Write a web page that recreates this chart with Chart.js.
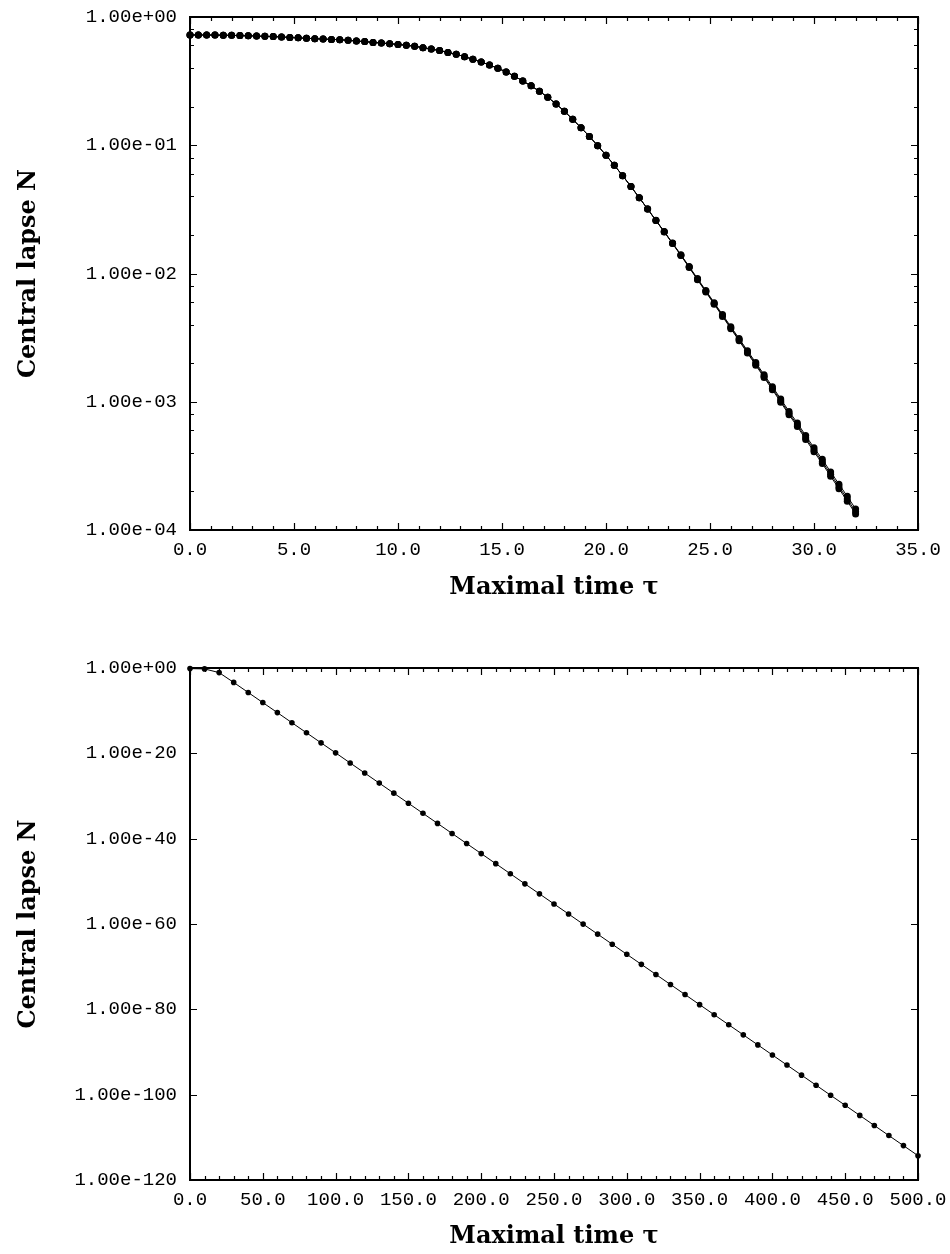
<!DOCTYPE html>
<html>
<head>
<meta charset="utf-8">
<title>Central lapse vs maximal time</title>
<script src="https://cdn.jsdelivr.net/npm/chart.js@4.4.0/dist/chart.umd.min.js"></script>
<style>
  body { margin: 0; background: #fff; }
  .panel { position: relative; width: 950px; height: 627px; }
</style>
</head>
<body>
<div class="panel"><canvas id="top_chart" width="950" height="627"></canvas></div>
<div class="panel"><canvas id="bottom_chart" width="950" height="627"></canvas></div>
<script>
// ---- upper panel: several runs, nearly on top of each other ----
var tauTop = [0.0,0.4,0.8,1.2,1.6,2.0,2.4,2.8,3.2,3.6,4.0,4.4,4.8,5.2,5.6,6.0,6.4,6.8,7.2,7.6,
  8.0,8.4,8.8,9.2,9.6,10.0,10.4,10.8,11.2,11.6,12.0,12.4,12.8,13.2,13.6,14.0,14.4,14.8,15.2,15.6,
  16.0,16.4,16.8,17.2,17.6,18.0,18.4,18.8,19.2,19.6,20.0,20.4,20.8,21.2,21.6,22.0,22.4,22.8,23.2,23.6,
  24.0,24.4,24.8,25.2,25.6,26.0,26.4,26.8,27.2,27.6,28.0,28.4,28.8,29.2,29.6,30.0,30.4,30.8,31.2,31.6,32.0];

var lapseMid = [0.7244,0.7244,0.7236,0.7228,0.7211,0.7194,0.7161,0.7137,0.7104,0.7063,0.7031,0.6982,0.6934,0.6879,0.6823,0.6776,0.6730,0.6691,0.6653,0.6577,
  0.6501,0.6427,0.6339,0.6266,0.6194,0.6109,0.6026,0.5902,0.5768,0.5623,0.5470,0.5297,0.5117,0.4909,0.4677,0.4457,0.4227,0.3981,0.3733,0.3459,
  0.3170,0.2904,0.2636,0.2366,0.2099,0.1841,0.1592,0.1371,0.1172,0.09931,0.08356,0.06982,0.05794,0.04764,0.03899,0.03184,0.02594,0.02113,0.01718,0.01390,
  0.01122,0.009016,0.007261,0.005834,0.004699,0.003776,0.003041,0.002443,0.001968,0.001581,0.001274,0.001019,0.0008128,0.0006592,0.0005248,0.0004207,0.0003412,0.0002716,0.0002178,0.0001746,0.0001390];

var lapseHigh = [0.7244,0.7244,0.7236,0.7228,0.7211,0.7194,0.7161,0.7137,0.7104,0.7063,0.7031,0.6982,0.6934,0.6879,0.6823,0.6776,0.6730,0.6691,0.6653,0.6577,
  0.6501,0.6427,0.6339,0.6266,0.6194,0.6109,0.6026,0.5902,0.5768,0.5623,0.5470,0.5297,0.5117,0.4909,0.4677,0.4457,0.4227,0.3981,0.3733,0.3459,
  0.3170,0.2904,0.2636,0.2366,0.2099,0.1841,0.1592,0.1371,0.1172,0.09931,0.08356,0.06982,0.05794,0.04764,0.03899,0.03184,0.02599,0.02121,0.01728,0.01401,
  0.01133,0.009124,0.007363,0.005927,0.004784,0.003852,0.003108,0.002502,0.002019,0.001625,0.001312,0.001052,0.0008404,0.0006829,0.0005447,0.0004375,0.0003555,0.0002836,0.0002278,0.0001830,0.0001460];

var lapseLow = [0.7244,0.7244,0.7236,0.7228,0.7211,0.7194,0.7161,0.7137,0.7104,0.7063,0.7031,0.6982,0.6934,0.6879,0.6823,0.6776,0.6730,0.6691,0.6653,0.6577,
  0.6501,0.6427,0.6339,0.6266,0.6194,0.6109,0.6026,0.5902,0.5768,0.5623,0.5470,0.5297,0.5117,0.4909,0.4677,0.4457,0.4227,0.3981,0.3733,0.3459,
  0.3170,0.2904,0.2636,0.2366,0.2099,0.1841,0.1592,0.1371,0.1172,0.09931,0.08356,0.06982,0.05794,0.04764,0.03899,0.03184,0.02590,0.02106,0.01710,0.01381,
  0.01113,0.008929,0.007180,0.005759,0.004631,0.003716,0.002987,0.002396,0.001927,0.001546,0.001243,0.0009929,0.0007907,0.0006402,0.0005088,0.0004072,0.0003297,0.0002620,0.0002098,0.0001679,0.0001334];

var xTicksTop = [0, 5, 10, 15, 20, 25, 30, 35];
var xLabelsTop = ['0.0', '5.0', '10.0', '15.0', '20.0', '25.0', '30.0', '35.0'];
var yTicksTop = [1, 1e-1, 1e-2, 1e-3, 1e-4];
var yLabelsTop = ['1.00e+00', '1.00e-01', '1.00e-02', '1.00e-03', '1.00e-04'];

// ---- lower panel: one long run ----
var tauBottom = [0,10,20,30,40,50,60,70,80,90,100,110,120,130,140,150,160,170,180,190,200,
  210,220,230,240,250,260,270,280,290,300,310,320,330,340,350,360,370,380,390,400,
  410,420,430,440,450,460,470,480,490,500];

var lapseBottom = [0.724,0.611,8.3e-2,4.2e-4,1.8e-6,7.9e-9,3.5e-11,1.5e-13,6.6e-16,2.9e-18,1.3e-20,
  5.5e-23,2.4e-25,1.05e-27,4.6e-30,2.0e-32,8.7e-35,3.8e-37,1.66e-39,7.2e-42,3.2e-44,
  1.38e-46,6.0e-49,2.6e-51,1.15e-53,5.0e-56,2.2e-58,9.5e-61,4.2e-63,1.8e-65,7.9e-68,
  3.5e-70,1.5e-72,6.6e-75,2.9e-77,1.26e-79,5.5e-82,2.4e-84,1.05e-86,4.6e-89,2.0e-91,
  8.7e-94,3.8e-96,1.66e-98,7.2e-101,3.2e-103,1.38e-105,6.0e-108,2.6e-110,1.15e-112,5.0e-115];

var xTicksBottom = [0, 50, 100, 150, 200, 250, 300, 350, 400, 450, 500];
var xLabelsBottom = ['0.0', '50.0', '100.0', '150.0', '200.0', '250.0', '300.0', '350.0', '400.0', '450.0', '500.0'];
var yTicksBottom = [1, 1e-20, 1e-40, 1e-60, 1e-80, 1e-100, 1e-120];
var yLabelsBottom = ['1.00e+00', '1.00e-20', '1.00e-40', '1.00e-60', '1.00e-80', '1.00e-100', '1.00e-120'];

var tickFont = { family: 'Liberation Mono', size: 19 };
var titleFont = { family: 'DejaVu Serif', size: 24, weight: 'bold' };

function toPoints(xs, ys)
{
    var pts = [];
    for (var i = 0; i < xs.length; i++) {
        pts.push({ x: xs[i], y: ys[i] });
    }
    return pts;
}

// box round the plot with inward ticks on all four sides (gnuplot look)
var framePlugin = {
    id: 'frame',
    beforeDatasetsDraw: function(chart, args, opts) {
        var ctx = chart.ctx;
        var a = chart.chartArea;
        var xs = chart.scales.x;
        var ys = chart.scales.y;
        ctx.save();
        ctx.strokeStyle = '#000';
        ctx.lineWidth = 1.2;
        ctx.beginPath();
        opts.xMajor.concat(opts.xMinor).forEach(function(v, i) {
            var len = i < opts.xMajor.length ? 7 : 4;
            var p = Math.round(xs.getPixelForValue(v)) + 0.5;
            ctx.moveTo(p, a.bottom); ctx.lineTo(p, a.bottom - len);
            ctx.moveTo(p, a.top); ctx.lineTo(p, a.top + len);
        });
        opts.yMajor.concat(opts.yMinor).forEach(function(v, i) {
            var len = i < opts.yMajor.length ? 7 : 4;
            var p = Math.round(ys.getPixelForValue(v)) + 0.5;
            ctx.moveTo(a.left, p); ctx.lineTo(a.left + len, p);
            ctx.moveTo(a.right, p); ctx.lineTo(a.right - len, p);
        });
        ctx.stroke();
        ctx.lineWidth = 2;
        ctx.strokeRect(a.left, a.top, a.right - a.left, a.bottom - a.top);
        ctx.restore();
    }
};

function xAxis(min, max, ticks, labels, height, titleBottom)
{
    return {
        type: 'linear', min: min, max: max,
        grid: { display: false, drawTicks: false },
        border: { display: false },
        ticks: {
            font: tickFont, color: '#000', padding: 9, maxRotation: 0, autoSkip: false,
            callback: function(v, i) { return labels[i]; }
        },
        afterBuildTicks: function(s) { s.ticks = ticks.map(function(v) { return { value: v }; }); },
        afterFit: function(s) {
            s.height = height;
            // end labels may hang over the frame; keep the plot box fixed
            s.paddingLeft = 0;
            s.paddingRight = 0;
        },
        title: { display: true, text: 'Maximal time τ', font: titleFont, color: '#000',
                 padding: { top: 0, bottom: titleBottom } }
    };
}

function yAxis(min, max, ticks, labels)
{
    return {
        type: 'logarithmic', min: min, max: max,
        grid: { display: false, drawTicks: false },
        border: { display: false },
        ticks: {
            font: tickFont, color: '#000', padding: 13, autoSkip: false,
            callback: function(v, i) { return labels[i]; }
        },
        afterBuildTicks: function(s) { s.ticks = ticks.map(function(v) { return { value: v }; }); },
        afterFit: function(s) {
            s.width = 190;
            s.paddingTop = 0;
            s.paddingBottom = 0;
        },
        title: { display: true, text: 'Central lapse N', font: titleFont, color: '#000',
                 padding: { top: 14, bottom: 0 } }
    };
}

function lineSet(points, radius)
{
    return {
        data: points,
        borderColor: '#000', borderWidth: 1,
        pointRadius: radius, pointBackgroundColor: '#000', pointBorderWidth: 0,
        tension: 0, clip: false
    };
}

function initPage()
{
    var xMinorTop = [];
    for (var i = 1; i < 35; i++) if (i % 5 !== 0) xMinorTop.push(i);
    var yMinorTop = [];
    for (var k = -4; k < 0; k++) {
        [2, 4, 6, 8].forEach(function(m) { yMinorTop.push(m * Math.pow(10, k)); });
    }
    var xMinorBottom = [];
    for (var j = 10; j < 500; j += 10) if (j % 50 !== 0) xMinorBottom.push(j);

    new Chart(document.getElementById('top_chart').getContext('2d'), {
        type: 'line',
        data: {
            datasets: [
                lineSet(toPoints(tauTop, lapseHigh), 3.5),
                lineSet(toPoints(tauTop, lapseLow), 3.5),
                lineSet(toPoints(tauTop, lapseMid), 3.5)
            ]
        },
        options: {
            responsive: false, animation: false,
            layout: { padding: { left: 0, right: 32, top: 17, bottom: 0 } },
            plugins: {
                legend: { display: false }, tooltip: { enabled: false },
                frame: { xMajor: xTicksTop, xMinor: xMinorTop, yMajor: yTicksTop, yMinor: yMinorTop }
            },
            scales: {
                x: xAxis(0, 35, xTicksTop, xLabelsTop, 97, 25),
                y: yAxis(1e-4, 1, yTicksTop, yLabelsTop)
            }
        },
        plugins: [framePlugin]
    });

    new Chart(document.getElementById('bottom_chart').getContext('2d'), {
        type: 'line',
        data: {
            datasets: [ lineSet(toPoints(tauBottom, lapseBottom), 2.8) ]
        },
        options: {
            responsive: false, animation: false,
            layout: { padding: { left: 0, right: 32, top: 41, bottom: 0 } },
            plugins: {
                legend: { display: false }, tooltip: { enabled: false },
                frame: { xMajor: xTicksBottom, xMinor: xMinorBottom, yMajor: yTicksBottom, yMinor: [] }
            },
            scales: {
                x: xAxis(0, 500, xTicksBottom, xLabelsBottom, 74, 3),
                y: yAxis(1e-120, 1, yTicksBottom, yLabelsBottom)
            }
        },
        plugins: [framePlugin]
    });
}

initPage();
</script>
</body>
</html>
